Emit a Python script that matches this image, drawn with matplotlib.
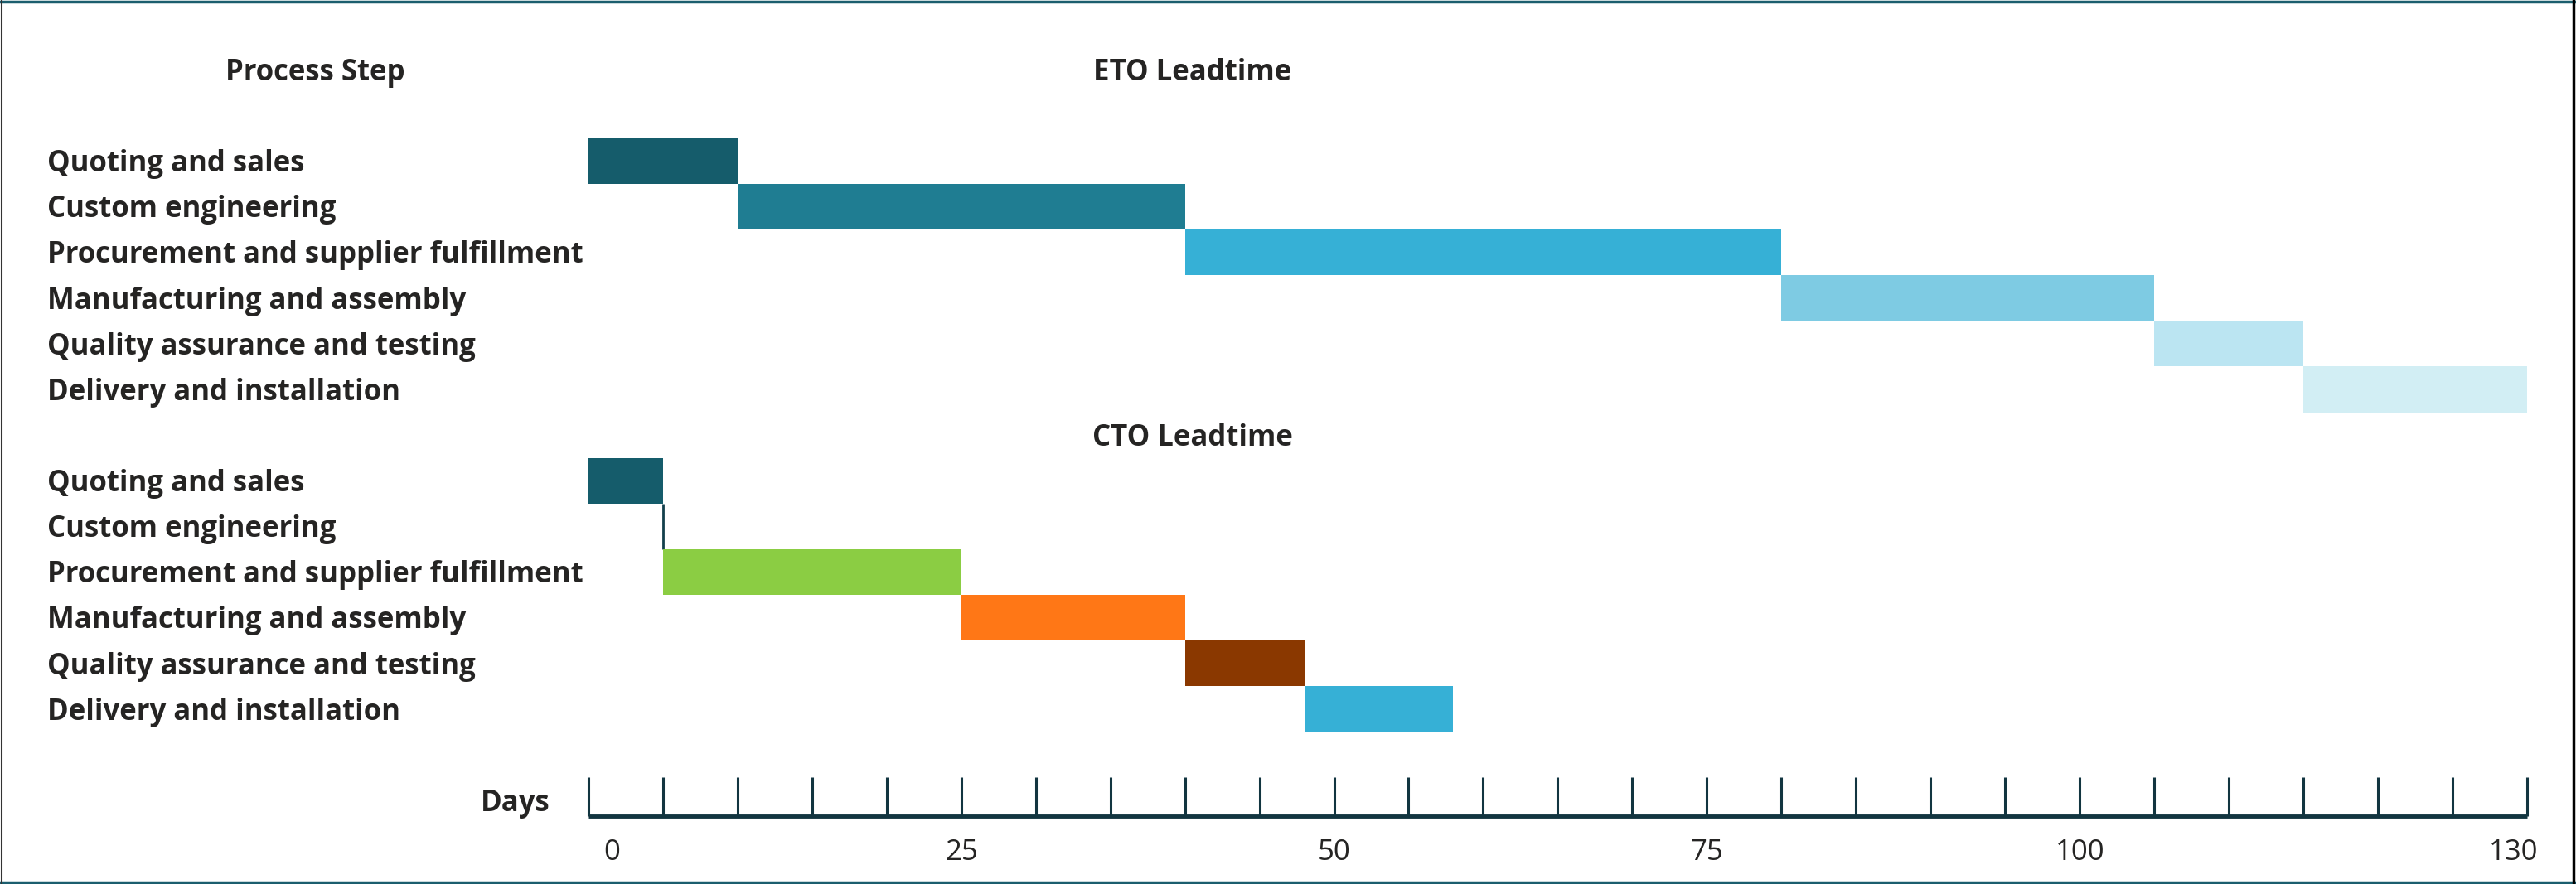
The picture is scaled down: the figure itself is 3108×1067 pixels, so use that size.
import numpy as np
import matplotlib
matplotlib.use("Agg")
import matplotlib.pyplot as plt
import matplotlib.transforms as mtransforms
from matplotlib.lines import Line2D

# data
steps = ["Quoting and sales", "Custom engineering", "Procurement and supplier fulfillment",
         "Manufacturing and assembly", "Quality assurance and testing", "Delivery and installation"]
eto_start = [0, 10, 40, 80, 105, 115]
eto_days = [10, 30, 40, 25, 10, 15]
cto_start = [0, 5, 5, 25, 40, 48]
cto_days = [5, 0, 20, 15, 8, 10]
day_labels = [0, 25, 50, 75, 100, 130]

eto_colors = ["#155C6B", "#1F7D92", "#36B0D6", "#7ECBE3", "#BBE5F2", "#D2EEF4"]
cto_colors = ["#155C6B", "#13404C", "#8BCD43", "#FF7716", "#8A3800", "#36B0D6"]

font = "Open Sans"
txt = "#252423"
axis_col = "#123540"
dy = 0.07  # nudge text down a little so it sits like the reference

fig = plt.figure(figsize=(31.08, 10.67), dpi=100)
ax = fig.add_axes([0.2284, 0, 0.981 - 0.2284, 1])
ax.set_xlim(0, 130)
ax.set_ylim(15.83, -3.525)

eto_rows = np.arange(len(steps))
cto_rows = eto_rows + len(steps) + 1

ax.barh(eto_rows, eto_days, left=eto_start, height=1.0, color=eto_colors, linewidth=0)
edge = [c if d == 0 else "none" for c, d in zip(cto_colors, cto_days)]
ax.barh(cto_rows, cto_days, left=cto_start, height=1.0, color=cto_colors,
        edgecolor=edge, linewidth=2)

# row labels on the left
lab_tr = mtransforms.blended_transform_factory(fig.transFigure, ax.transData)
for rows in (eto_rows, cto_rows):
    for r, s in zip(rows, steps):
        ax.text(0.0185, r + dy, s, transform=lab_tr, ha="left", va="center",
                fontsize=25, fontweight="bold", color=txt, family=font)

# headers
ax.text(0.1225, -2 + dy, "Process Step", transform=lab_tr, ha="center", va="center",
        fontsize=25, fontweight="bold", color=txt, family=font)
ax.text(0.463, -2 + dy, "ETO Leadtime", transform=lab_tr, ha="center", va="center",
        fontsize=25, fontweight="bold", color=txt, family=font)
ax.text(0.463, len(steps) + dy, "CTO Leadtime", transform=lab_tr, ha="center", va="center",
        fontsize=25, fontweight="bold", color=txt, family=font)
ax.text(0.2136, 14.0 + dy, "Days", transform=lab_tr, ha="right", va="center",
        fontsize=25, fontweight="bold", color=txt, family=font)

# axis styling
for side in ("top", "left", "right"):
    ax.spines[side].set_visible(False)
ax.spines["bottom"].set_position(("data", 14.35))
ax.spines["bottom"].set_color(axis_col)
ax.spines["bottom"].set_linewidth(3.5)
ax.spines["bottom"].set_capstyle("butt")
ax.set_yticks([])
ax.set_xticks(day_labels)
ax.set_xticks(np.arange(0, 131, 5), minor=True)
ax.tick_params(axis="x", which="both", direction="in", length=34, width=2.2,
               color=axis_col)
ax.tick_params(axis="x", which="major", pad=19, labelsize=25, labelcolor=txt)
for lab in ax.get_xticklabels():
    lab.set_family(font)
ticklabs = ax.get_xticklabels()
ticklabs[0].set_transform(ticklabs[0].get_transform() +
                          mtransforms.ScaledTranslation(0.28, 0, fig.dpi_scale_trans))
ticklabs[-1].set_transform(ticklabs[-1].get_transform() +
                           mtransforms.ScaledTranslation(-0.16, 0, fig.dpi_scale_trans))

# frame around the picture
fig.add_artist(Line2D([0, 1], [0.998, 0.998], transform=fig.transFigure, color="#1B5E6E", lw=2.5))
fig.add_artist(Line2D([0, 1], [0.002, 0.002], transform=fig.transFigure, color="#1B5E6E", lw=2.5))
fig.add_artist(Line2D([0.0005, 0.0005], [0, 1], transform=fig.transFigure, color="#333333", lw=1.5))
fig.add_artist(Line2D([0.999, 0.999], [0, 1], transform=fig.transFigure, color="black", lw=2.5))

fig.savefig("out.png", dpi=100, facecolor="white")
